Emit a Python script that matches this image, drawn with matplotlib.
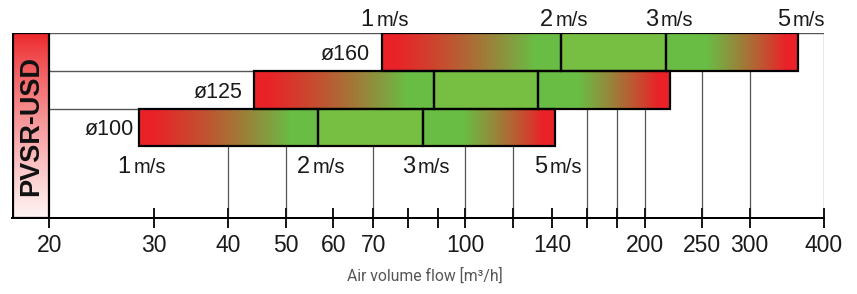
import numpy as np
import matplotlib.pyplot as plt
from matplotlib.patches import Rectangle
from matplotlib.ticker import NullLocator
from matplotlib.colors import to_rgb

plt.rcParams['font.family'] = ['Liberation Sans', 'DejaVu Sans']

# --- data ---
diameters = ['ø100', 'ø125', 'ø160']
speed_labels = ['1', '2', '3', '5']
flow_100 = [28.3, 56.5, 84.8, 141.4]
flow_125 = [44.2, 88.4, 132.5, 220.9]
flow_160 = [72.4, 144.8, 217.1, 361.9]
tick_values = [20, 30, 40, 50, 60, 70, 80, 90, 100, 120, 140, 160, 180, 200, 250, 300, 400]
tick_labels = ['20', '30', '40', '50', '60', '70', '', '', '100', '', '140', '', '', '200', '250', '300', '400']
grid_values = [40, 50, 70, 100, 120, 160, 180, 200, 250, 300, 400]
product = 'PVSR-USD'

flows = [flow_100, flow_125, flow_160]

RED = to_rgb('#ea2228')
GREEN = to_rgb('#69bd45')
GREEN_SOLID = to_rgb('#76bf43')

W, H = 857, 294
fig = plt.figure(figsize=(W / 100, H / 100), dpi=100)
ax = fig.add_axes([12 / W, 76 / H, 812 / W, 185 / H])
ax.set_xscale('log')
XMIN, XMAX, YTOP = 17.33, 400, 4.9
PX = YTOP / 185  # data units per pixel (y)


def px2pt(p):
    return p * 0.72


def strip(stops, cols, n=300):
    t = np.linspace(0, 1, n)
    c = np.array(cols)
    img = np.stack([np.interp(t, stops, c[:, k]) for k in range(3)], axis=-1)
    return img[None, :, :]


grad_up = strip([0, 0.05, 0.8, 1], [RED, RED, GREEN, GREEN])
grad_down = strip([0, 0.25, 0.88, 1], [GREEN, GREEN, RED, RED])

# grid lines
ax.vlines(grid_values, 0, YTOP, color='#555555', lw=0.9, zorder=1)

row_bottom = [1.9, 2.9, 3.9]
label_gap = [5, 12, 12]
for i, (name, f) in enumerate(zip(diameters, flows)):
    y0 = row_bottom[i]
    ax.add_patch(Rectangle((20, y0), f[0] - 20, 1.0, fc='white', ec='none', zorder=2))
    x_end = XMAX if i == len(flows) - 1 else f[0]
    ax.hlines(y0 + 1.0, 20, x_end, color='#555555', lw=1.0, zorder=2.5)
    # segments
    ax.imshow(grad_up, extent=(f[0], f[1], y0, y0 + 1), aspect='auto',
              interpolation='bilinear', zorder=3)
    ax.add_patch(Rectangle((f[1], y0), f[2] - f[1], 1.0, fc=GREEN_SOLID, ec='none', zorder=3))
    ax.imshow(grad_down, extent=(f[2], f[3], y0, y0 + 1), aspect='auto',
              interpolation='bilinear', zorder=3)
    for a, b in zip(f[:-1], f[1:]):
        ax.add_patch(Rectangle((a, y0), b - a, 1.0, fill=False, ec='black', lw=1.6, zorder=4))
    ax.annotate(name, (f[0], y0 + 0.5), xytext=(-px2pt(label_gap[i]), 0),
                textcoords='offset points', ha='right', va='center_baseline',
                fontsize=15.5, color='#1a1a1a', zorder=5)

# speed labels above top row and below bottom row
for f, yb in [(flow_160, YTOP + 7 * PX), (flow_100, 1.9 - 27 * PX)]:
    for v, s in zip(f, speed_labels):
        ax.annotate(s, (v, yb), xytext=(-px2pt(8), 0), textcoords='offset points',
                    ha='right', va='baseline', fontsize=17, color='#1a1a1a',
                    annotation_clip=False)
        ax.annotate('m/s', (v, yb), xytext=(-px2pt(5), 0), textcoords='offset points',
                    ha='left', va='baseline', fontsize=14.5, color='#1a1a1a',
                    annotation_clip=False)

# product box with vertical gradient
t = np.linspace(0, 1, 200)[:, None]
top_c = np.array(to_rgb('#ec2326'))
bot_c = np.array(to_rgb('#fff4f4'))
box = (top_c[None, :] * (1 - t ** 0.8) + bot_c[None, :] * t ** 0.8)[:, None, :]
ax.imshow(box, extent=(XMIN, 20, 0, YTOP), aspect='auto', interpolation='bilinear', zorder=3)
ax.add_patch(Rectangle((XMIN * 1.003, 0), 20 - XMIN * 1.003, YTOP, fill=False,
                       ec='black', lw=1.6, zorder=4))
ax.text(np.sqrt(XMIN * 20) * 1.004, YTOP / 2, product, rotation=90, ha='center', va='center',
        fontsize=19.5, fontweight='bold', color='#111111', zorder=5)

ax.set_xlim(XMIN, XMAX)
ax.set_ylim(0, YTOP)
ax.set_xticks(tick_values, tick_labels)
ax.xaxis.set_minor_locator(NullLocator())
ax.tick_params(axis='x', which='major', direction='inout', length=14.4, width=1.44,
               pad=4, labelsize=16.5, colors='#1a1a1a')
ax.set_yticks([])
for s in ['top', 'right', 'left']:
    ax.spines[s].set_visible(False)
ax.spines['bottom'].set_linewidth(1.44)
ax.spines['bottom'].set_zorder(6)

fig.text(425 / W, 1 - 276 / H, 'Air volume flow [m³/h]', ha='center', va='center',
         fontsize=11.3, color='#555555', family=['Roboto', 'DejaVu Sans'])

fig.savefig('out.png', dpi=100)
